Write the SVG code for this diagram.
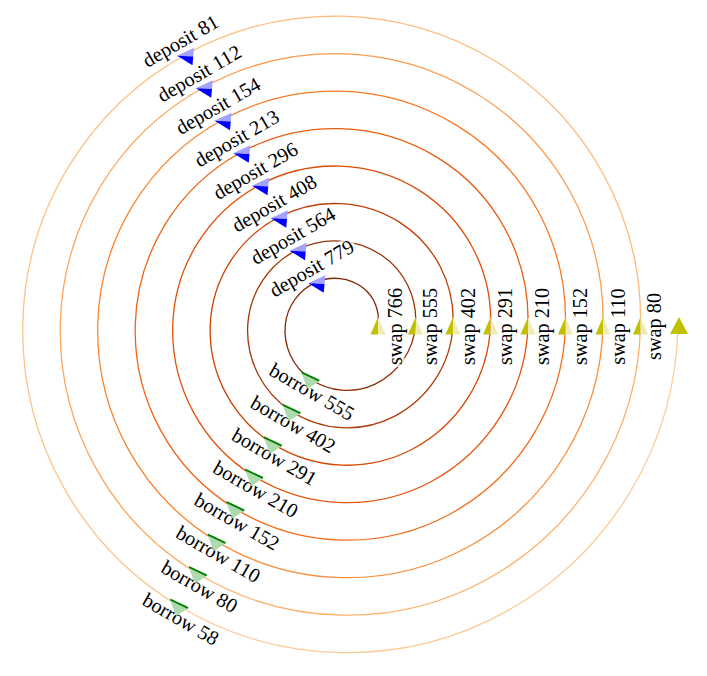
<svg xmlns="http://www.w3.org/2000/svg" xmlns:xlink="http://www.w3.org/1999/xlink" width="707" height="676" viewBox="0 0 707 676">
<style>
.e{fill:none;stroke-width:1.3}
.lbl{font-family:"Liberation Serif","Times New Roman",serif;font-size:20.3px;text-anchor:middle;fill:#000;stroke:#fff;stroke-opacity:0.75;stroke-width:6;stroke-linejoin:round;paint-order:stroke}
.sd{fill:#c0c000}.sl{fill:#ececb4}
.dd{fill:#0000ff}.dl{fill:#a3a3ff}
.bd{fill:#008000}.bl{fill:#addbad}
</style>
<defs>
<g id="tri-swap"><polygon class="sd" points="0,-8 -7.5,9.5 0,9.5"/><polygon class="sl" points="0,-8 0,9.5 7.5,9.5"/></g>
<g id="tri-deposit"><polygon class="dl" points="-8,1 9,-7 8.25,1.75"/><polygon class="dd" points="-8,1 8.25,1.75 7.5,10.5"/></g>
<g id="tri-borrow"><polygon class="bl" points="-8.5,-5.5 9,2.5 -2.5,10"/><polygon class="bd" points="-8.5,-7.5 9.5,1 9,3 -8.5,-5.5"/></g>
</defs>
<rect width="707" height="676" fill="#fff"/>
<g id="connectors">
<path class="e" stroke="#7f2704" d="M378,325 A40.13,40.13 0 0 0 362.63,287.55 A46.38,46.38 0 0 0 316.25,282.13"/>
<path class="e" stroke="#852a05" d="M316.25,282.13 A52.63,52.63 0 0 0 285.25,325 A58.88,58.88 0 0 0 310,378.69"/>
<path class="e" stroke="#8f2f06" d="M310,378.69 A65.13,65.13 0 0 0 375.13,384.1 A71.38,71.38 0 0 0 415.5,325"/>
<path class="e" stroke="#993306" d="M415.5,325 A77.63,77.63 0 0 0 381.38,255.07 A83.88,83.88 0 0 0 297.5,249.66"/>
<path class="e" stroke="#a33705" d="M297.5,249.66 A90.13,90.13 0 0 0 247.75,325 A96.38,96.38 0 0 0 291.25,411.17"/>
<path class="e" stroke="#ad3a05" d="M291.25,411.17 A102.63,102.63 0 0 0 393.88,416.58 A108.88,108.88 0 0 0 453,325"/>
<path class="e" stroke="#bb3e04" d="M453,325 A115.13,115.13 0 0 0 400.13,222.6 A121.38,121.38 0 0 0 278.75,217.18"/>
<path class="e" stroke="#c94303" d="M278.75,217.18 A127.63,127.63 0 0 0 210.25,325 A133.88,133.88 0 0 0 272.5,443.64"/>
<path class="e" stroke="#d64802" d="M272.5,443.64 A140.13,140.13 0 0 0 412.63,449.05 A146.38,146.38 0 0 0 490.5,325"/>
<path class="e" stroke="#dc4d06" d="M490.5,325 A152.63,152.63 0 0 0 418.88,190.12 A158.88,158.88 0 0 0 260,184.71"/>
<path class="e" stroke="#e0510a" d="M260,184.71 A165.13,165.13 0 0 0 172.75,325 A171.38,171.38 0 0 0 253.75,476.12"/>
<path class="e" stroke="#e4560e" d="M253.75,476.12 A177.63,177.63 0 0 0 431.38,481.53 A183.88,183.88 0 0 0 528,325"/>
<path class="e" stroke="#e95d10" d="M528,325 A190.13,190.13 0 0 0 437.63,157.65 A196.38,196.38 0 0 0 241.25,152.23"/>
<path class="e" stroke="#ee6515" d="M241.25,152.23 A202.63,202.63 0 0 0 135.25,325 A208.88,208.88 0 0 0 235,508.59"/>
<path class="e" stroke="#f26d1a" d="M235,508.59 A215.13,215.13 0 0 0 450.13,514 A221.38,221.38 0 0 0 565.5,325"/>
<path class="e" stroke="#f67925" d="M565.5,325 A227.63,227.63 0 0 0 456.38,125.17 A233.88,233.88 0 0 0 222.5,119.76"/>
<path class="e" stroke="#f98530" d="M222.5,119.76 A240.13,240.13 0 0 0 97.75,325 A246.38,246.38 0 0 0 216.25,541.07"/>
<path class="e" stroke="#fb8f3c" d="M216.25,541.07 A252.63,252.63 0 0 0 468.88,546.48 A258.88,258.88 0 0 0 603,325"/>
<path class="e" stroke="#fc9c50" d="M603,325 A265.13,265.13 0 0 0 475.13,92.7 A271.38,271.38 0 0 0 203.75,87.28"/>
<path class="e" stroke="#fda75e" d="M203.75,87.28 A277.63,277.63 0 0 0 60.25,325 A283.88,283.88 0 0 0 197.5,573.54"/>
<path class="e" stroke="#fdb16c" d="M197.5,573.54 A290.13,290.13 0 0 0 487.63,578.95 A296.38,296.38 0 0 0 640.5,325"/>
<path class="e" stroke="#fdba7b" d="M640.5,325 A302.63,302.63 0 0 0 493.88,60.22 A308.88,308.88 0 0 0 185,54.81"/>
<path class="e" stroke="#fdc38a" d="M185,54.81 A315.13,315.13 0 0 0 22.75,325 A321.38,321.38 0 0 0 178.75,606.02"/>
<path class="e" stroke="#fdcb98" d="M178.75,606.02 A327.63,327.63 0 0 0 506.38,611.43 A333.88,333.88 0 0 0 678,325"/>
<polygon fill="#c0c000" points="670,334 688,334 679,317"/>
</g>
<g id="n-swap766"><text class="lbl" transform="translate(401.5,326.5) rotate(-90)">swap 766</text><use xlink:href="#tri-swap" x="378" y="325"/></g>
<g id="n-deposit779"><text class="lbl" transform="translate(315.15,274.22) rotate(-30)">deposit 779</text><use xlink:href="#tri-deposit" x="316.25" y="282.13"/></g>
<g id="n-borrow555"><text class="lbl" transform="translate(308.59,397.74) rotate(30)">borrow 555</text><use xlink:href="#tri-borrow" x="310" y="378.69"/></g>
<g id="n-swap555"><text class="lbl" transform="translate(436.8,326.5) rotate(-90)">swap 555</text><use xlink:href="#tri-swap" x="415.5" y="325"/></g>
<g id="n-deposit564"><text class="lbl" transform="translate(296.4,241.75) rotate(-30)">deposit 564</text><use xlink:href="#tri-deposit" x="297.5" y="249.66"/></g>
<g id="n-borrow402"><text class="lbl" transform="translate(289.84,430.22) rotate(30)">borrow 402</text><use xlink:href="#tri-borrow" x="291.25" y="411.17"/></g>
<g id="n-swap402"><text class="lbl" transform="translate(475.2,326.5) rotate(-90)">swap 402</text><use xlink:href="#tri-swap" x="453" y="325"/></g>
<g id="n-deposit408"><text class="lbl" transform="translate(277.65,209.27) rotate(-30)">deposit 408</text><use xlink:href="#tri-deposit" x="278.75" y="217.18"/></g>
<g id="n-borrow291"><text class="lbl" transform="translate(271.09,462.69) rotate(30)">borrow 291</text><use xlink:href="#tri-borrow" x="272.5" y="443.64"/></g>
<g id="n-swap291"><text class="lbl" transform="translate(511.8,326.5) rotate(-90)">swap 291</text><use xlink:href="#tri-swap" x="490.5" y="325"/></g>
<g id="n-deposit296"><text class="lbl" transform="translate(258.9,176.8) rotate(-30)">deposit 296</text><use xlink:href="#tri-deposit" x="260" y="184.71"/></g>
<g id="n-borrow210"><text class="lbl" transform="translate(252.34,495.17) rotate(30)">borrow 210</text><use xlink:href="#tri-borrow" x="253.75" y="476.12"/></g>
<g id="n-swap210"><text class="lbl" transform="translate(548.5,326.5) rotate(-90)">swap 210</text><use xlink:href="#tri-swap" x="528" y="325"/></g>
<g id="n-deposit213"><text class="lbl" transform="translate(240.15,144.32) rotate(-30)">deposit 213</text><use xlink:href="#tri-deposit" x="241.25" y="152.23"/></g>
<g id="n-borrow152"><text class="lbl" transform="translate(233.59,527.64) rotate(30)">borrow 152</text><use xlink:href="#tri-borrow" x="235" y="508.59"/></g>
<g id="n-swap152"><text class="lbl" transform="translate(586.8,326.5) rotate(-90)">swap 152</text><use xlink:href="#tri-swap" x="565.5" y="325"/></g>
<g id="n-deposit154"><text class="lbl" transform="translate(221.4,111.85) rotate(-30)">deposit 154</text><use xlink:href="#tri-deposit" x="222.5" y="119.76"/></g>
<g id="n-borrow110"><text class="lbl" transform="translate(214.84,560.12) rotate(30)">borrow 110</text><use xlink:href="#tri-borrow" x="216.25" y="541.07"/></g>
<g id="n-swap110"><text class="lbl" transform="translate(625.2,326.5) rotate(-90)">swap 110</text><use xlink:href="#tri-swap" x="603" y="325"/></g>
<g id="n-deposit112"><text class="lbl" transform="translate(202.65,79.37) rotate(-30)">deposit 112</text><use xlink:href="#tri-deposit" x="203.75" y="87.28"/></g>
<g id="n-borrow80"><text class="lbl" transform="translate(196.09,592.59) rotate(30)">borrow 80</text><use xlink:href="#tri-borrow" x="197.5" y="573.54"/></g>
<g id="n-swap80"><text class="lbl" transform="translate(660.8,326.5) rotate(-90)">swap 80</text><use xlink:href="#tri-swap" x="640.5" y="325"/></g>
<g id="n-deposit81"><text class="lbl" transform="translate(183.9,46.9) rotate(-30)">deposit 81</text><use xlink:href="#tri-deposit" x="185" y="54.81"/></g>
<g id="n-borrow58"><text class="lbl" transform="translate(177.34,625.07) rotate(30)">borrow 58</text><use xlink:href="#tri-borrow" x="178.75" y="606.02"/></g>
</svg>
